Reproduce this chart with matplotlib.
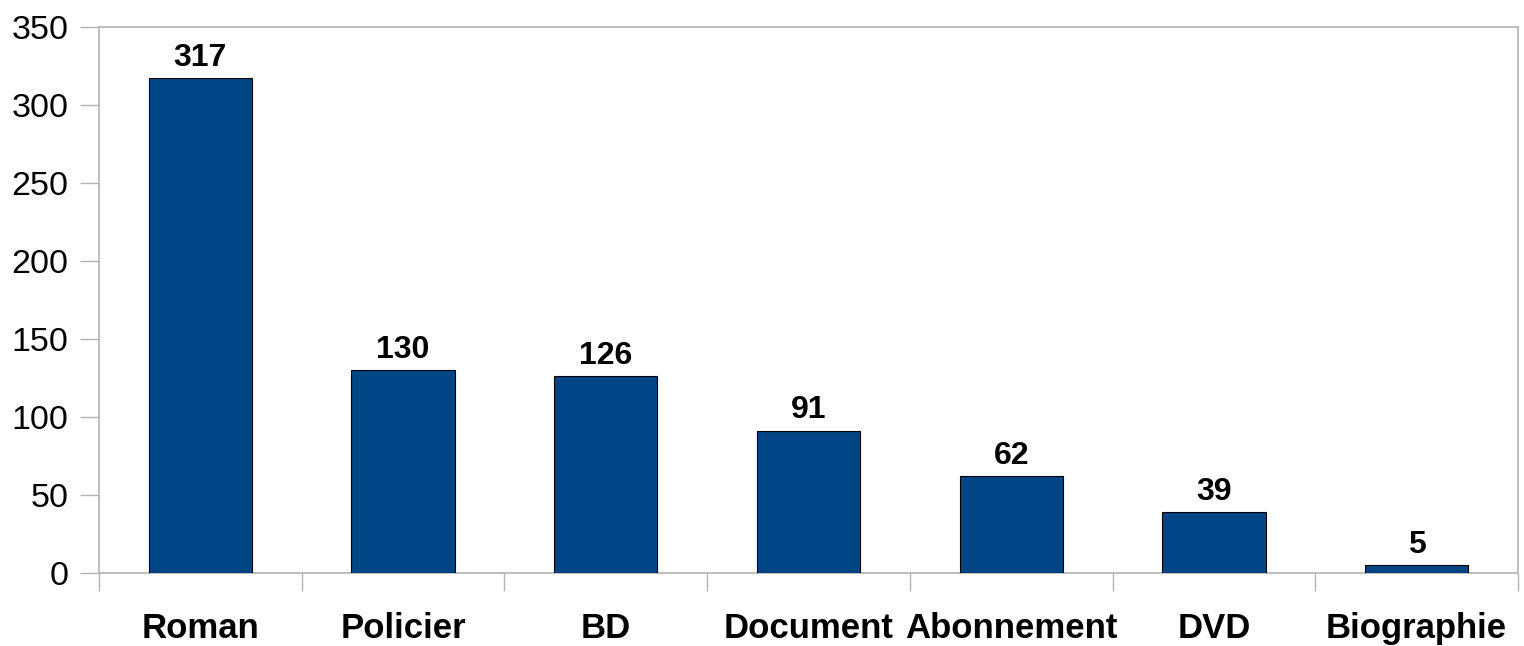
import matplotlib
matplotlib.use("Agg")
import matplotlib.pyplot as plt
import numpy as np

categories = ["Roman", "Policier", "BD", "Document", "Abonnement", "DVD", "Biographie"]
values = [317, 130, 126, 91, 62, 39, 5]

plt.rcParams['font.family'] = ['Liberation Sans', 'DejaVu Sans']

fig = plt.figure(figsize=(15.24, 6.46), dpi=100)
ax = fig.add_axes([99/1524, 1 - 573/646, (1518-99)/1524, (573-27)/646])

x = np.arange(len(categories))
bars = ax.bar(x, values, width=0.51, color="#004586", edgecolor="black", linewidth=0.8, zorder=3)
for xi, v in zip(x, values):
    ax.annotate(str(v), (xi, v), xytext=(0, 4), textcoords="offset points",
                ha="center", va="bottom", fontsize=23, fontweight="bold")

ax.set_xlim(-0.5, len(categories) - 0.5)
ax.set_ylim(0, 350)
ax.set_yticks(np.arange(0, 351, 50))
ax.tick_params(axis="y", length=14, width=1, color="#b3b3b3", labelsize=24.5, pad=8)

ax.set_xticks(x)
ax.set_xticklabels(categories, fontsize=25, fontweight="bold")
ax.tick_params(axis="x", which="major", length=0, pad=28)
ax.set_xticks(np.arange(-0.5, len(categories), 1), minor=True)
ax.tick_params(axis="x", which="minor", length=13, width=1, color="#b3b3b3")

for s in ax.spines.values():
    s.set_color("#b3b3b3")
    s.set_linewidth(1.2)

fig.savefig("out.png", dpi=100)
